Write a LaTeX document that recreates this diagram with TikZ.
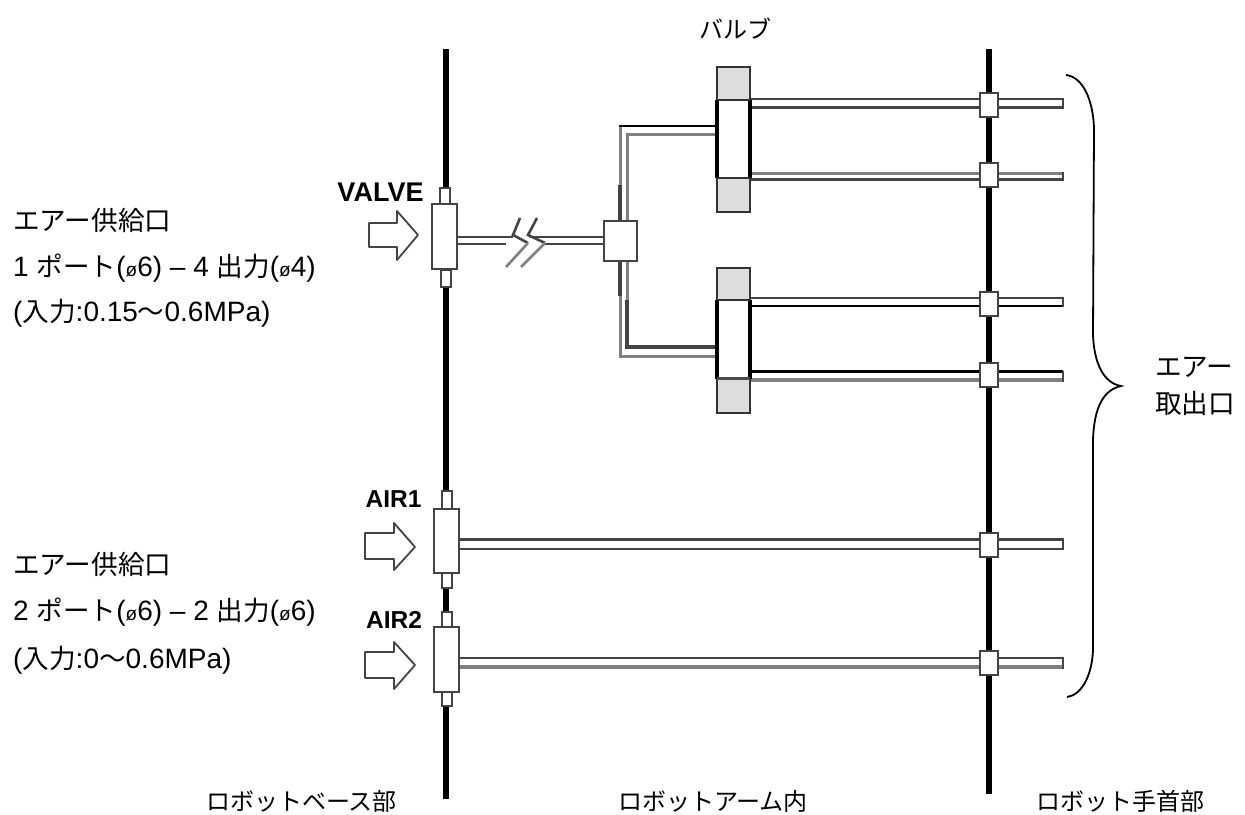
\documentclass[tikz,border=0pt]{standalone}
\usepackage{fontspec}
\setmainfont{Liberation Sans}
\newfontfamily\cjk{Noto Sans CJK JP}
\newcommand{\jp}[1]{{\fontsize{26.6}{32}\selectfont\cjk #1}}
\newcommand{\jq}[1]{{\fontsize{24}{28}\selectfont\cjk #1}}
\newcommand{\dia}{{\fontsize{19}{19}\selectfont ø}}
\definecolor{pdarkc}{HTML}{444444}
\definecolor{pgreyc}{HTML}{808080}
\definecolor{valvec}{HTML}{DDDDDD}
\tikzset{
  rail/.style={line width=6.5pt,draw=black},
  pdark/.style={line width=2.6pt,draw=pdarkc},
  pblack/.style={line width=2.4pt,draw=black},
  pgrey/.style={line width=3pt,draw=pgreyc},
  pgreyt/.style={line width=4.5pt,draw=pgreyc},
  blockbox/.style={draw=pdarkc,fill=white,line width=2pt,inner sep=0pt,rectangle},
  portbox/.style={blockbox,minimum width=18pt,minimum height=24pt},
  nipple/.style={blockbox,minimum width=10pt},
  capbox/.style={draw=black!80,fill=valvec,line width=1.8pt,inner sep=0pt,minimum width=33pt,minimum height=145pt},
  midbox/.style={fill=white,inner sep=0pt,minimum width=33pt,minimum height=78pt},
  inarrow/.style={draw=pdarkc,fill=white,line width=1.8pt,line join=round},
  thick side/.style={line width=3.6pt,draw=black},
  txt/.style={inner sep=0pt,anchor=west,font=\fontsize{28}{32}\selectfont},
  ctr/.style={inner sep=0pt,anchor=center,font=\fontsize{24}{28}\selectfont},
  tag/.style={inner sep=0pt,anchor=center,font=\bfseries\fontsize{24.5}{28}\selectfont},
  bracket/.style={line width=1.8pt,draw=black},
  breakd/.style={line width=2.6pt,draw=pdarkc},
  breakg/.style={line width=2.6pt,draw=pgreyc},
}
\begin{document}
\begin{tikzpicture}[x=1pt,y=-1pt]
\useasboundingbox (0,0) rectangle (1245,814);
% rails
\coordinate (la) at (446,49);
\coordinate (lb) at (446,799);
\coordinate (ra) at (989,49);
\coordinate (rb) at (989,794);
\draw[rail] (la) -- (lb);
\draw[rail] (ra) -- (rb);

% pipes valve to outputs
\draw[pdark] (750,99) -- (1063,99);
\draw[pdark] (750,107.5) -- (1063,107.5);
\draw[pgrey] (750,173) -- (1063,173);
\draw[pdark] (750,179.5) -- (1063,179.5);
\draw[pdark] (750,298) -- (1063,298);
\draw[pblack] (750,306) -- (1063,306);
\draw[pblack] (750,371.5) -- (1063,371.5);
\draw[pgreyt] (750,380) -- (1063,380);
\draw[pdark] (1063,98) -- (1063,109);
\draw[pdark] (1063,172) -- (1063,181);
\draw[pdark] (1063,297) -- (1063,307);
\draw[pdark] (1063,371) -- (1063,382);

% air pipes
\draw[pdark,line width=3.2pt] (459,539.5) -- (1063,539.5);
\draw[pdark] (459,549) -- (1063,549);
\draw[pdark] (1063,538) -- (1063,550);
\draw[pdark] (459,658) -- (1063,658);
\draw[pgreyt] (459,667) -- (1063,667);
\draw[pdark] (1063,657) -- (1063,669);

% nipples
\node[nipple,minimum height=17pt] (vn1) at (445,196) {};
\node[nipple,minimum height=17pt] (vn2) at (446,278) {};
\node[nipple,minimum height=18pt] (a1n1) at (446.5,500) {};
\node[nipple,minimum height=18pt] (a1n2) at (446.5,579) {};
\node[nipple,minimum height=16pt] (a2n1) at (446.5,620) {};
\node[nipple,minimum height=16pt] (a2n2) at (446.5,698) {};

% main blocks
\node[blockbox,minimum width=25pt,minimum height=65pt] (vb) at (444.5,236.5) {};
\node[blockbox,minimum width=25pt,minimum height=64pt] (a1) at (446.5,541) {};
\node[blockbox,minimum width=25pt,minimum height=65pt] (a2) at (446.5,659.5) {};
\node[blockbox,minimum width=33pt,minimum height=40pt] (hub) at (620.5,241) {};

% valve input to hub, with break
\draw[pdark] (vb.east |- 0,237) -- (513,237);
\draw[pdark] (vb.east |- 0,244) -- (506,244);
\draw[pdark] (530,237) -- (hub.west |- 0,237);
\draw[pdark] (545,244) -- (hub.west |- 0,244);
\draw[breakd] (520,218) -- (513,235) -- (528,243);
\draw[breakg] (528,243) -- (506,267);
\draw[breakd] (537,218) -- (528,235) -- (545,243);
\draw[breakg] (545,243) -- (521,267);

% hub to valves
\draw[pgrey] (620,185) -- (620,126);
\draw[pdark,line width=3.2pt] (620,220) -- (620,185);
\draw[pgrey] (627,220) -- (627,134) -- (717,134);
\draw[pblack] (619,126) -- (717,126);
\draw[pgrey] (620,296) -- (620,356) -- (717,356);
\draw[pdark,line width=3.2pt] (620,262) -- (620,296);
\draw[pgrey] (627,262) -- (627,300);
\draw[pdark,line width=3.2pt] (627,300) -- (627,347) -- (717,347);

% valves
\node[capbox] (vt) at (733.5,139.5) {};
\node[midbox] (vtm) at (733.5,139) {};
\draw[thick side] (vtm.north west) -- (vtm.south west);
\draw[thick side] (vtm.north east) -- (vtm.south east);
\draw[line width=1.8pt,draw=black!80] (vtm.north west) -- (vtm.north east);
\draw[line width=1.8pt,draw=black!80] (vtm.south west) -- (vtm.south east);
\node[capbox] (vu) at (733.5,340.5) {};
\node[midbox] (vum) at (733.5,339.5) {};
\draw[thick side] (vum.north west) -- (vum.south west);
\draw[thick side] (vum.north east) -- (vum.south east);
\draw[line width=1.8pt,draw=black!80] (vum.north west) -- (vum.north east);
\draw[line width=2.6pt,draw=black!70] (vum.south west) -- (vum.south east);

% wrist ports
\node[portbox] (p1) at (989,105) {};
\node[portbox] (p2) at (989,175) {};
\node[portbox] (p3) at (989,303.5) {};
\node[portbox] (p4) at (989,375) {};
\node[portbox] (p5) at (989,544.5) {};
\node[portbox] (p6) at (989,662.5) {};

% input arrows
\draw[inarrow] (369,223) -- (397,223) -- (397,211) -- (418,235) -- (397,260) -- (397,247) -- (369,247) -- cycle;
\draw[inarrow] (365,533) -- (394,533) -- (394,523) -- (415,547) -- (394,570) -- (394,559) -- (365,559) -- cycle;
\draw[inarrow] (365,652) -- (394,652) -- (394,642) -- (415,665) -- (394,689) -- (394,678) -- (365,678) -- cycle;

% brace
\coordinate (bt) at (1066,75);
\coordinate (bm) at (1121,386);
\coordinate (bb) at (1067,697);
\draw[bracket] (bt) .. controls (1083,77) and (1093,100) .. (1094,128) -- (1093,335) .. controls (1094,362) and (1103,383) .. (bm)
  .. controls (1103,390) and (1094,408) .. (1093,440) -- (1093,650) .. controls (1092,675) and (1082,695) .. (bb);

% labels
\node[tag,font=\bfseries\fontsize{27}{30}\selectfont] (lvalve) at (380.5,192) {VALVE};
\node[tag] (lair1) at (393.5,499) {AIR1};
\node[tag] (lair2) at (394,620) {AIR2};

\node[ctr] (lbulb) at (735.5,29) {\jq{バルブ}};
\node[txt] (t1) at (13,220) {\jp{エアー供給口}};
\node[txt] (t2) at (13,268) {1 \jp{ポート}(\dia6) – 4 \jp{出力}(\dia4)};
\node[txt] (t3) at (13,313) {(\jp{入力}:0.15\jp{〜}0.6MPa)};
\node[txt] (t4) at (13,564) {\jp{エアー供給口}};
\node[txt] (t5) at (13,612) {2 \jp{ポート}(\dia6) – 2 \jp{出力}(\dia6)};
\node[txt] (t6) at (13,660) {(\jp{入力}:0\jp{〜}0.6MPa)};
\node[txt] (t7) at (1155,367) {\jp{エアー}};
\node[txt] (t8) at (1155,403) {\jp{取出口}};
\node[ctr] (b1) at (301.5,801) {\jq{ロボットベース部}};
\node[ctr] (b2) at (713,801) {\jq{ロボットアーム内}};
\node[ctr] (b3) at (1120,801) {\jq{ロボット手首部}};
\end{tikzpicture}
\end{document}
